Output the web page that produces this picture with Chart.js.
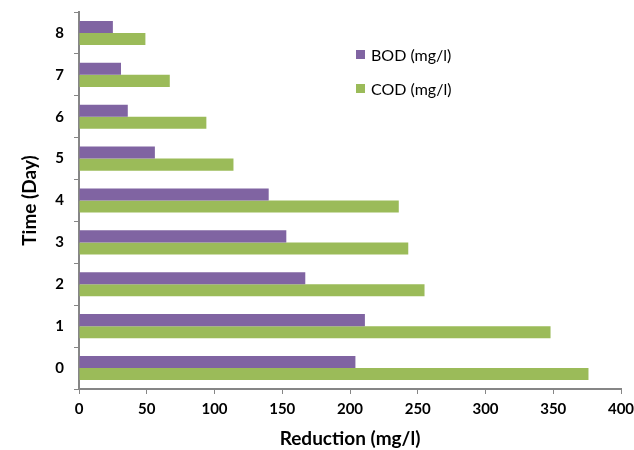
<!DOCTYPE html>
<html>
<head>
<meta charset="utf-8">
<script src="https://cdn.jsdelivr.net/npm/chart.js@4"></script>
<style>
  html, body { margin: 0; padding: 0; background: #fff; }
  #wrap { position: relative; width: 634px; height: 450px; }
  #legend { position: absolute; left: 356px; top: 37px; font-family: Lato, "Liberation Sans", sans-serif; font-size: 16px; color: #000; }
  #legend div { display: flex; align-items: center; height: 34px; }
  #legend span.box { display: inline-block; width: 9px; height: 9px; margin-right: 6px; }
</style>
</head>
<body>
<div id="wrap">
  <canvas id="chart" width="634" height="450"></canvas>
  <div id="legend"></div>
</div>
<script>
// dny (nahoře 8, dole 0)
const days = ['8', '7', '6', '5', '4', '3', '2', '1', '0'];
const bod = [25, 31, 36, 56, 140, 153, 167, 211, 204];
const cod = [49, 67, 94, 114, 236, 243, 255, 348, 376];
const xTicks = [0, 50, 100, 150, 200, 250, 300, 350, 400];

const seriesNames = ['BOD (mg/l)', 'COD (mg/l)'];
const colors = ['#8064A2', '#9BBB59'];

const font = 'Lato, "Liberation Sans", sans-serif';
const axisColor = '#868686';

// legenda jako HTML text
const legend = document.getElementById('legend');
seriesNames.forEach((name, i) => {
    const row = document.createElement('div');
    row.innerHTML = `<span class="box" style="background:${colors[i]}"></span>${name}`;
    legend.appendChild(row);
});

const ctx = document.getElementById('chart').getContext('2d');
new Chart(ctx, {
    type: 'bar',
    data: {
        labels: days,
        datasets: [
            { label: seriesNames[0], data: bod, backgroundColor: colors[0] },
            { label: seriesNames[1], data: cod, backgroundColor: colors[1] }
        ]
    },
    options: {
        indexAxis: 'y',
        responsive: false,
        animation: false,
        layout: { padding: { top: 12, right: 13, left: 18, bottom: 0 } },
        datasets: { bar: { barPercentage: 1, categoryPercentage: 0.575 } },
        plugins: { legend: { display: false }, tooltip: { enabled: false } },
        scales: {
            x: {
                min: 0, max: 400,
                afterBuildTicks: scale => { scale.ticks = xTicks.map(v => ({ value: v })); },
                afterFit: scale => { scale.height = 61; scale.paddingRight = 0; scale.paddingLeft = 0; },
                grid: { drawOnChartArea: false, drawTicks: true, tickLength: 5, color: axisColor, lineWidth: 1 },
                border: { color: axisColor, width: 2 },
                ticks: { color: '#000', padding: 6, font: { family: font, size: 15, weight: 'bold' } },
                title: { display: true, text: 'Reduction (mg/l)', color: '#000', padding: { top: 1, bottom: 0 }, font: { family: font, size: 19, weight: 'bold' } }
            },
            y: {
                afterFit: scale => { scale.width = 61; scale.paddingTop = 0; scale.paddingBottom = 0; },
                grid: { drawOnChartArea: false, drawTicks: true, tickLength: 5, color: axisColor, lineWidth: 1, offset: true },
                border: { color: axisColor, width: 2 },
                ticks: { color: '#000', padding: 10, font: { family: font, size: 15, weight: 'bold' } },
                title: { display: true, text: 'Time (Day)', color: '#000', padding: { top: 0, bottom: 0 }, font: { family: font, size: 19, weight: 'bold' } }
            }
        }
    }
});
</script>
</body>
</html>
